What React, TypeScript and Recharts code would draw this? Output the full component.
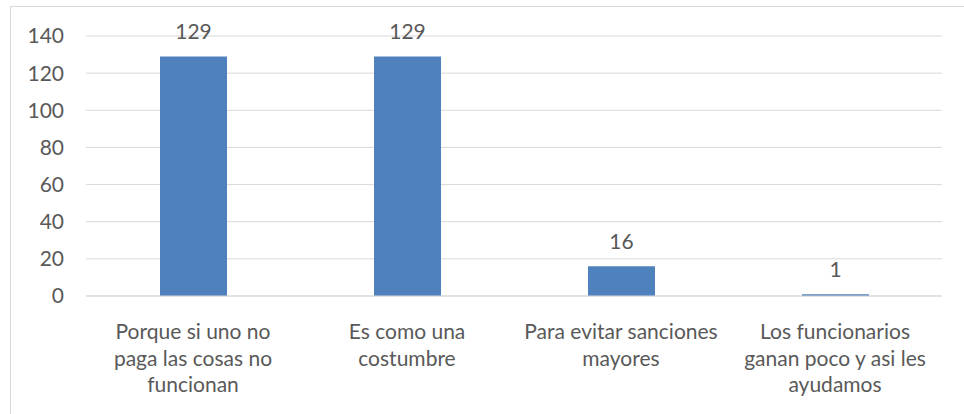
import React from "react";
import { BarChart, Bar, XAxis, YAxis, CartesianGrid, LabelList } from "recharts";

const categories = [
  "Porque si uno no paga las cosas no funcionan",
  "Es como una costumbre",
  "Para evitar sanciones mayores",
  "Los funcionarios ganan poco y asi les ayudamos",
];
const categoryLines = [
  ["Porque si uno no", "paga las cosas no", "funcionan"],
  ["Es como una", "costumbre"],
  ["Para evitar sanciones", "mayores"],
  ["Los funcionarios", "ganan poco y asi les", "ayudamos"],
];
const values = [129, 129, 16, 1];
const yTicks = [0, 20, 40, 60, 80, 100, 120, 140];

const data = categories.map((name, i) => ({ name, idx: i, value: values[i] }));

const FONT = "Lato, 'Open Sans', sans-serif";
const TEXT = "#595959";
const FS = 21;

function CategoryTick(props: any) {
  const { x, y, index } = props;
  const lines = categoryLines[index] || [];
  return (
    <text x={x} y={y} textAnchor="middle" fill={TEXT} fontSize={FS} fontFamily={FONT}>
      {lines.map((l, i) => (
        <tspan key={i} x={x} y={y + 35 + i * 26.5}>
          {l}
        </tspan>
      ))}
    </text>
  );
}

export default function App() {
  return (
    <div
      style={{
        position: "fixed",
        left: 0,
        top: 0,
        width: 964,
        height: 414,
        overflow: "hidden",
        background: "#fff",
      }}
    >
      <div
        style={{
          position: "absolute",
          left: 10,
          top: 6,
          width: 1000,
          height: 500,
          border: "1px solid #d9d9d9",
        }}
      />
      <div style={{ position: "absolute", left: 0, top: 0 }}>
        <BarChart
          width={964}
          height={414}
          data={data}
          margin={{ top: 36, right: 22, left: 0, bottom: 0 }}
          barSize={67}
        >
          <CartesianGrid stroke="#d9d9d9" vertical={false} />
          <XAxis
            dataKey="name"
            axisLine={{ stroke: "#d9d9d9" }}
            tickLine={false}
            height={118}
            interval={0}
            tick={<CategoryTick />}
          />
          <YAxis
            width={86}
            domain={[0, 140]}
            ticks={yTicks}
            axisLine={false}
            tickLine={false}
            tickSize={0}
            tickMargin={22}
            tick={{ fill: TEXT, fontSize: FS, fontFamily: FONT }}
          />
          <Bar dataKey="value" fill="#4F81BD" isAnimationActive={false}>
            <LabelList
              dataKey="value"
              position="top"
              offset={17}
              fill={TEXT}
              fontSize={FS}
              fontFamily={FONT}
            />
          </Bar>
        </BarChart>
      </div>
    </div>
  );
}
